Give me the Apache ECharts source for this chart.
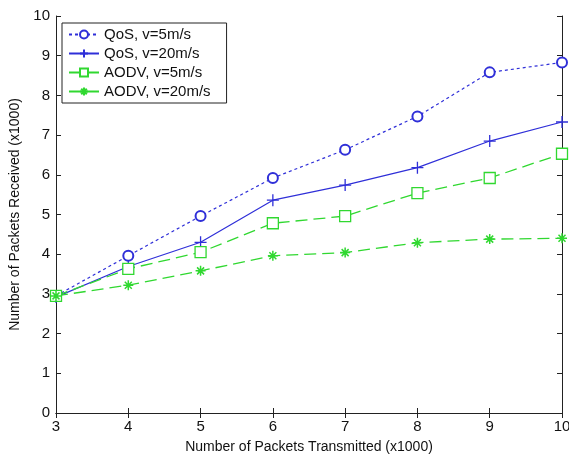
<!DOCTYPE html>
<html><head><meta charset="utf-8">
<script src="https://cdn.jsdelivr.net/npm/echarts@6/dist/echarts.min.js"></script>
<style>html,body{margin:0;padding:0;background:#fff}#c{width:569px;height:454px}</style>
</head><body><div id="c"></div>
<script>
const xValues = [3, 4, 5, 6, 7, 8, 9, 10];
const qos5 = [2.95, 3.96, 4.96, 5.92, 6.63, 7.47, 8.58, 8.83];
const qos20 = [2.92, 3.69, 4.30, 5.36, 5.74, 6.18, 6.85, 7.33];
const aodv5 = [2.95, 3.63, 4.05, 4.78, 4.96, 5.54, 5.92, 6.53];
const aodv20 = [2.95, 3.22, 3.58, 3.96, 4.04, 4.29, 4.38, 4.40];
const seriesNames = ['QoS, v=5m/s', 'QoS, v=20m/s', 'AODV, v=5m/s', 'AODV, v=20m/s'];
const yTicks = [0,1,2,3,4,5,6,7,8,9,10];

const BLUE = '#2f2fd8';
const GREEN = '#30d830';
const FONT = 'Liberation Sans';
const pair = arr => xValues.map((x, i) => [x, arr[i]]);

const chart = echarts.init(document.getElementById('c'), null, {renderer: 'canvas'});
const tickStyle = {inside: true, length: 5, lineStyle: {color: '#222', width: 1}};
const lineAx = {show: true, lineStyle: {color: '#222', width: 1}};
chart.setOption({
  animation: false,
  backgroundColor: '#fff',
  textStyle: {fontFamily: FONT},
  grid: {left: 56, right: 7, top: 16, bottom: 41, containLabel: false, outerBoundsMode: 'none'},
  legend: {
    orient: 'vertical', left: 62, top: 23,
    padding: [4, 16, 4, 6],
    itemGap: 4, itemWidth: 30, itemHeight: 10,
    borderColor: '#222', borderWidth: 1, backgroundColor: '#fff',
    textStyle: {fontFamily: FONT, fontSize: 15, color: '#111'},
    data: seriesNames
  },
  xAxis: [{
    type: 'value', min: 3, max: 10, interval: 1,
    name: 'Number of Packets Transmitted (x1000)', nameLocation: 'middle', nameGap: 27,
    nameTextStyle: {fontFamily: FONT, fontSize: 14, color: '#111'},
    axisLine: lineAx, axisTick: tickStyle, splitLine: {show: false},
    axisLabel: {fontFamily: FONT, fontSize: 15, color: '#111', margin: 6}
  }, {
    type: 'value', min: 3, max: 10, interval: 1, position: 'top',
    axisLine: lineAx, axisTick: tickStyle, splitLine: {show: false},
    axisLabel: {show: false}
  }],
  yAxis: [{
    type: 'value', min: 0, max: 10, interval: 1,
    name: 'Number of Packets Received (x1000)', nameLocation: 'middle', nameGap: 31, nameRotate: 90,
    nameTextStyle: {fontFamily: FONT, fontSize: 14, color: '#111'},
    axisLine: lineAx, axisTick: tickStyle, splitLine: {show: false},
    axisLabel: {fontFamily: FONT, fontSize: 15, color: '#111', margin: 6,
      formatter: v => yTicks.includes(v) ? String(v) : ''}
  }, {
    type: 'value', min: 0, max: 10, interval: 1, position: 'right',
    axisLine: lineAx, axisTick: tickStyle, splitLine: {show: false},
    axisLabel: {show: false}
  }],
  series: [{
    name: seriesNames[0], type: 'line', data: pair(qos5),
    symbol: 'emptyCircle', symbolSize: 10, showAllSymbol: true,
    lineStyle: {color: BLUE, width: 1.2, type: [3, 3]},
    itemStyle: {color: BLUE, borderColor: BLUE, borderWidth: 1.2}
  }, {
    name: seriesNames[1], type: 'line', data: pair(qos20),
    symbol: 'path://M0,5L10,5M5,0L5,10', symbolSize: 12,
    lineStyle: {color: BLUE, width: 1.2, type: 'solid'},
    itemStyle: {color: 'rgba(0,0,0,0)', borderColor: BLUE, borderWidth: 1.3}
  }, {
    name: seriesNames[2], type: 'line', data: pair(aodv5),
    symbol: 'rect', symbolSize: 11,
    lineStyle: {color: GREEN, width: 1.3, type: [12, 6]},
    itemStyle: {color: '#fff', borderColor: GREEN, borderWidth: 1.3}
  }, {
    name: seriesNames[3], type: 'line', data: pair(aodv20),
    symbol: 'path://M5,0L5,10M0,5L10,5M1.5,1.5L8.5,8.5M8.5,1.5L1.5,8.5', symbolSize: 10,
    lineStyle: {color: GREEN, width: 1.3, type: [12, 6]},
    itemStyle: {color: 'rgba(0,0,0,0)', borderColor: GREEN, borderWidth: 1.5}
  }]
});
</script></body></html>
